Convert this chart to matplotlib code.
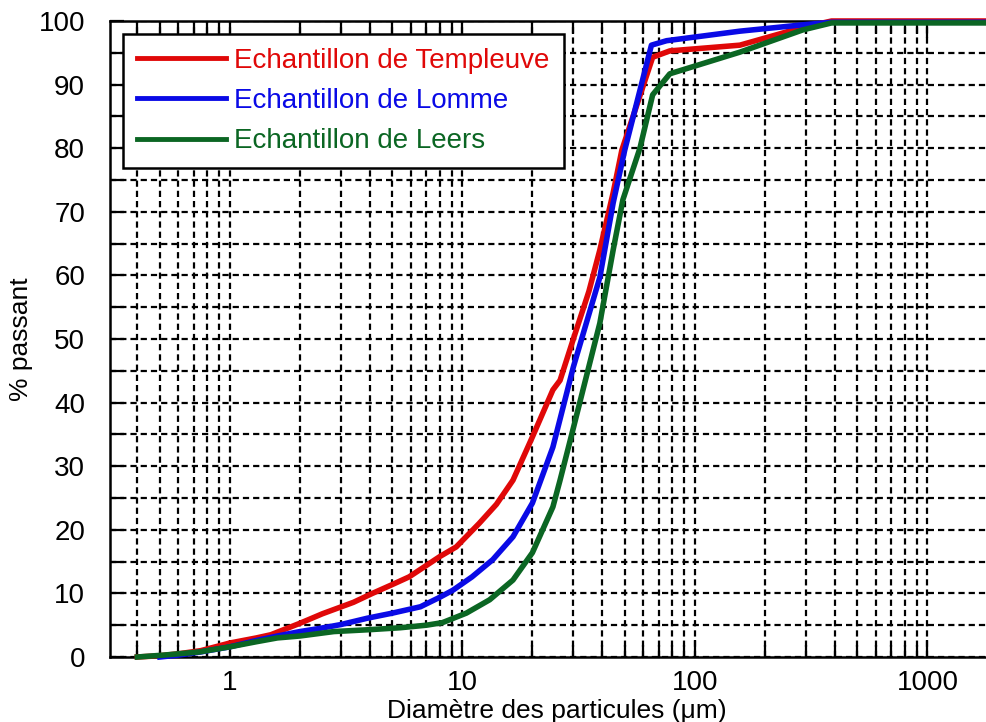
import matplotlib
matplotlib.use('Agg')
from matplotlib import pyplot as plt
from matplotlib.ticker import LogLocator, MultipleLocator, FixedLocator, NullFormatter

# Particle size distributions (diameter in um, % passing)
templeuve_d = [0.4, 0.5, 0.6, 0.75, 1, 1.3, 1.5, 2, 2.5, 3.4, 4.1, 5, 5.9, 8, 9.4,
               11.8, 14, 16.5, 20, 24.5, 26.3, 30, 35, 39, 44.5, 48.5, 65.8, 78,
               156, 291, 387, 2000]
templeuve_p = [0, 0.2, 0.5, 1.0, 2.2, 3.0, 3.5, 5.3, 6.8, 8.6, 10, 11.4, 12.6, 15.8, 17.3,
               21, 24, 27.8, 34.6, 42, 43.5, 50, 57.5, 64, 73, 79.7, 94.3, 95.3,
               96.2, 99, 100, 100]

lomme_d = [0.5, 0.6, 0.75, 1, 1.3, 1.6, 2, 2.44, 3, 3.9, 5, 6.6, 8, 9.1, 11, 13.5,
           16.5, 20, 24.5, 30, 39, 44.5, 49.9, 65, 75.5, 156, 291, 387, 2000]
lomme_p = [0, 0.3, 0.8, 1.6, 2.6, 3.3, 4.0, 4.5, 5.1, 6.1, 6.9, 7.9, 9.4, 10.5, 12.6, 15.3,
           18.9, 24.2, 33, 45.6, 59.7, 71.4, 79.7, 96.2, 96.9, 98.4, 99.4, 99.8, 99.8]

leers_d = [0.4, 0.52, 0.74, 1, 1.3, 1.6, 2, 2.8, 4, 5.4, 7, 8.2, 10.4, 13.1, 16.5,
           20, 24.5, 26.3, 30, 39, 44.5, 49, 58, 65.8, 78, 156, 291, 387, 2000]
leers_p = [0, 0.3, 0.8, 1.6, 2.4, 3.0, 3.3, 4.0, 4.3, 4.6, 5.0, 5.4, 6.9, 9.0, 12.1,
           16.4, 23.6, 27.8, 36, 52.5, 64, 71.9, 80, 88.4, 91.7, 95.1, 98.6, 99.7, 99.7]

labels = ['Echantillon de Templeuve', 'Echantillon de Lomme', 'Echantillon de Leers']
colors = ['#e00808', '#0a0ae6', '#0b6623']

plt.rcParams['font.family'] = ['Liberation Sans', 'DejaVu Sans']

fig = plt.figure(figsize=(9.86, 7.22), dpi=100)
ax = fig.add_axes([110 / 986, 65 / 722, 876 / 986, 636 / 722])

lines = []
for d, p, c, lab in zip([templeuve_d, lomme_d, leers_d],
                        [templeuve_p, lomme_p, leers_p], colors, labels):
    ln, = ax.plot(d, p, color=c, lw=4.0, label=lab, clip_on=False, zorder=5)
    lines.append(ln)

ax.set_xscale('log')
ax.set_xlim(0.305, 1786)
ax.set_ylim(0, 100)

ax.xaxis.set_major_locator(FixedLocator([1, 10, 100, 1000]))
ax.set_xticklabels(['1', '10', '100', '1000'])
ax.xaxis.set_minor_locator(LogLocator(base=10, subs=range(2, 10), numticks=20))
ax.xaxis.set_minor_formatter(NullFormatter())
ax.yaxis.set_major_locator(MultipleLocator(10))
ax.yaxis.set_minor_locator(MultipleLocator(5))

ax.grid(True, which='both', color='black', linestyle=(0, (2.8, 1.8)), lw=1.6)

ax.tick_params(which='both', direction='in', top=True, right=False, width=1.6, color='black')
ax.tick_params(axis='x', which='major', length=12, labelsize=20, pad=9)
ax.tick_params(axis='x', which='minor', length=9)
ax.tick_params(axis='y', which='major', length=10, labelsize=20, pad=18)
ax.tick_params(axis='y', which='minor', length=10)

for side in ['left', 'bottom', 'top']:
    ax.spines[side].set_linewidth(1.8)
ax.spines['right'].set_visible(False)

ax.set_xlabel('Diamètre des particules (μm)', fontsize=19)
ax.xaxis.set_label_coords(0.51, -0.066)
ax.set_ylabel('% passant', fontsize=19)
ax.yaxis.set_label_coords(-0.088, 0.5)

leg = ax.legend(handles=lines, loc='upper left', bbox_to_anchor=(0.015, 0.98),
                fontsize=20, frameon=True, fancybox=False, edgecolor='black',
                framealpha=1, handlelength=3.2, handletextpad=0.3, labelspacing=0.52,
                borderpad=0.5, borderaxespad=0)
leg.get_frame().set_linewidth(1.8)
leg.set_zorder(10)
for txt, c in zip(leg.get_texts(), colors):
    txt.set_color(c)
for h in leg.legend_handles:
    h.set_linewidth(3.5)

plt.savefig('out.png', dpi=100)
